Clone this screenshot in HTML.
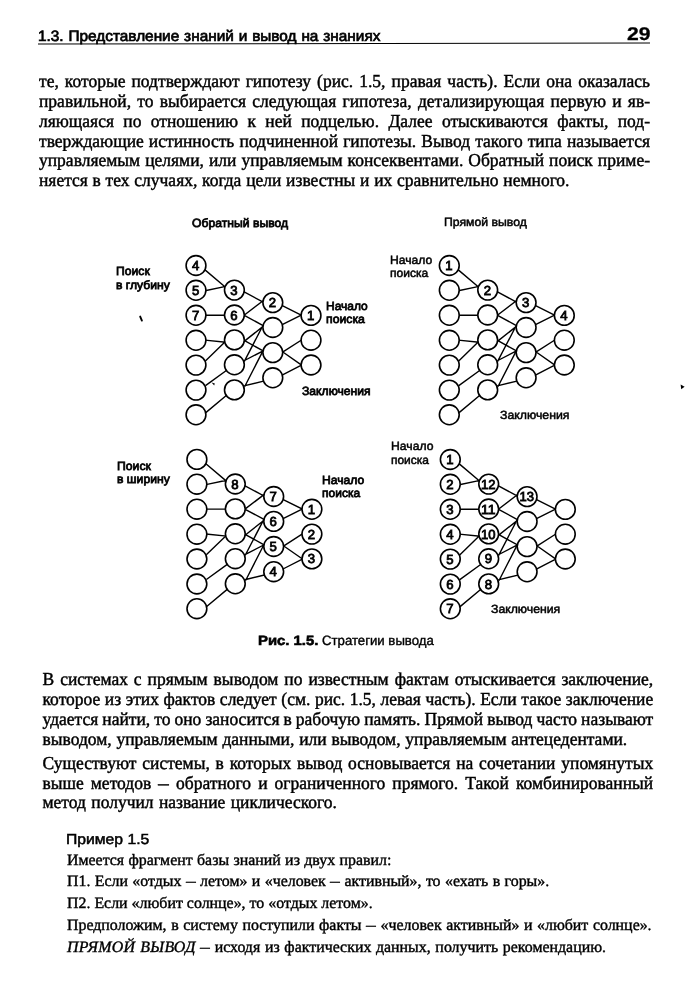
<!DOCTYPE html>
<html lang="ru"><head><meta charset="utf-8"><title>29</title>
<style>.d{display:inline-block;width:0.62em;transform:scaleX(0.62);transform-origin:0 50%;}i{letter-spacing:0.3px;}
html,body{margin:0;padding:0;background:#fff;}
body{width:693px;height:1000px;position:relative;overflow:hidden;color:#111;will-change:transform;}
.t{position:absolute;white-space:pre;line-height:20px;height:20px;transform-origin:0 50%;text-rendering:geometricPrecision;}
.s{font-family:"Liberation Serif", serif;-webkit-text-stroke:0.45px #000;color:#000;filter:blur(0.3px);}
.a{font-family:"Liberation Sans", sans-serif;-webkit-text-stroke:0.6px #000;color:#000;}
.f{-webkit-text-stroke-width:0.75px;filter:blur(0.35px);}
.rule{position:absolute;left:38px;top:42.5px;width:612px;height:1.25px;background:#000;transform:rotate(-0.1deg);}
svg{position:absolute;left:0;top:0;}
svg text{text-rendering:geometricPrecision;font-family:"Liberation Sans", sans-serif;font-size:13.2px;text-anchor:middle;fill:#000;stroke:#000;stroke-width:0.8px;}
</style></head>
<body>
<div class="rule"></div>
<div class="t a" style="left:37.6px;top:26.7px;font-size:15.0px;word-spacing:0.6px;transform:scaleX(1.0238);-webkit-text-stroke-width:0.7px;">1.3. Представление знаний и вывод на знаниях</div>
<div class="t a" style="left:626.5px;top:24.1px;font-size:18.4px;font-weight:bold;transform:scaleX(1.1481);-webkit-text-stroke-width:0.3px;">29</div>
<div class="t s" style="left:39.0px;top:71.0px;font-size:17.5px;word-spacing:1.692px;transform:scaleY(1.04);transform-origin:0 16.00px;">те, которые подтверждают гипотезу (рис. 1.5, правая часть). Если она оказалась</div>
<div class="t s" style="left:39.0px;top:90.9px;font-size:17.5px;word-spacing:1.873px;transform:scaleY(1.04);transform-origin:0 16.00px;">правильной, то выбирается следующая гипотеза, детализирующая первую и яв-</div>
<div class="t s" style="left:39.0px;top:110.9px;font-size:17.5px;word-spacing:4.988px;transform:scaleY(1.04);transform-origin:0 16.00px;">ляющаяся по отношению к ней подцелью. Далее отыскиваются факты, под-</div>
<div class="t s" style="left:39.0px;top:130.7px;font-size:17.5px;word-spacing:0.712px;transform:scaleY(1.04);transform-origin:0 16.00px;">тверждающие истинность подчиненной гипотезы. Вывод такого типа называется</div>
<div class="t s" style="left:39.0px;top:150.4px;font-size:17.5px;word-spacing:0.654px;transform:scaleY(1.04);transform-origin:0 16.00px;">управляемым целями, или управляемым консеквентами. Обратный поиск приме-</div>
<div class="t s" style="left:39.0px;top:170.4px;font-size:17.5px;word-spacing:0.375px;transform:scaleY(1.04);transform-origin:0 16.00px;">няется в тех случаях, когда цели известны и их сравнительно немного.</div>
<div class="t s" style="left:42.5px;top:669.2px;font-size:17.5px;word-spacing:1.578px;transform:scaleY(1.04);transform-origin:0 16.00px;">В системах с прямым выводом по известным фактам отыскивается заключение,</div>
<div class="t s" style="left:42.5px;top:688.8px;font-size:17.5px;word-spacing:0.182px;transform:scaleY(1.04);transform-origin:0 16.00px;">которое из этих фактов следует (см. рис. 1.5, левая часть). Если такое заключение</div>
<div class="t s" style="left:42.5px;top:709.0px;font-size:17.5px;word-spacing:-0.324px;transform:scaleY(1.04);transform-origin:0 16.00px;">удается найти, то оно заносится в рабочую память. Прямой вывод часто называют</div>
<div class="t s" style="left:42.5px;top:728.5px;font-size:17.5px;word-spacing:0.414px;transform:scaleY(1.04);transform-origin:0 16.00px;">выводом, управляемым данными, или выводом, управляемым антецедентами.</div>
<div class="t s" style="left:42.5px;top:752.8px;font-size:17.5px;word-spacing:1.412px;transform:scaleY(1.04);transform-origin:0 16.00px;">Существуют системы, в которых вывод основывается на сочетании упомянутых</div>
<div class="t s" style="left:42.5px;top:773.3px;font-size:17.5px;word-spacing:2.656px;transform:scaleY(1.04);transform-origin:0 16.00px;">выше методов <span class="d">—</span> обратного и ограниченного прямого. Такой комбинированный</div>
<div class="t s" style="left:42.5px;top:792.4px;font-size:17.5px;word-spacing:1.005px;transform:scaleY(1.04);transform-origin:0 16.00px;">метод получил название циклического.</div>
<div class="t a" style="left:66.3px;top:829.6px;font-size:14.5px;transform:scaleX(1.0836);-webkit-text-stroke-width:0.5px;">Пример 1.5</div>
<div class="t s" style="left:67.0px;top:850.5px;font-size:15.9px;word-spacing:0.374px;-webkit-text-stroke-width:0.4px;">Имеется фрагмент базы знаний из двух правил:</div>
<div class="t s" style="left:67.0px;top:872.2px;font-size:15.9px;word-spacing:0.410px;-webkit-text-stroke-width:0.4px;">П1. Если «отдых <span class="d">—</span> летом» и «человек <span class="d">—</span> активный», то «ехать в горы».</div>
<div class="t s" style="left:67.0px;top:894.2px;font-size:15.9px;word-spacing:0.026px;-webkit-text-stroke-width:0.4px;">П2. Если «любит солнце», то «отдых летом».</div>
<div class="t s" style="left:67.0px;top:915.9px;font-size:15.9px;word-spacing:0.615px;-webkit-text-stroke-width:0.4px;">Предположим, в систему поступили факты <span class="d">—</span> «человек активный» и «любит солнце».</div>
<div class="t s" style="left:67.0px;top:938.3px;font-size:15.9px;word-spacing:0.680px;-webkit-text-stroke-width:0.4px;"><i>ПРЯМОЙ ВЫВОД</i> <span class="d">—</span> исходя из фактических данных, получить рекомендацию.</div>
<div class="t a f" style="left:191.5px;top:212.6px;font-size:11.9px;transform:scaleX(1.0237);">Обратный вывод</div>
<div class="t a f" style="left:444.2px;top:212.2px;font-size:11.9px;transform:scaleX(1.0292);-webkit-text-stroke-width:0.5px;">Прямой вывод</div>
<div class="t a f" style="left:115.9px;top:261.1px;font-size:11.9px;transform:scaleX(1.0227);">Поиск</div>
<div class="t a f" style="left:115.9px;top:275.3px;font-size:11.9px;transform:scaleX(1.0230);">в глубину</div>
<div class="t a f" style="left:326.2px;top:296.2px;font-size:11.9px;transform:scaleX(1.0087);">Начало</div>
<div class="t a f" style="left:326.2px;top:309.2px;font-size:11.9px;transform:scaleX(1.0313);">поиска</div>
<div class="t a f" style="left:301.6px;top:380.5px;font-size:11.9px;transform:scaleX(1.0225);">Заключения</div>
<div class="t a f" style="left:389.7px;top:249.9px;font-size:11.9px;transform:scaleX(1.0208);-webkit-text-stroke-width:0.5px;">Начало</div>
<div class="t a f" style="left:389.7px;top:263.0px;font-size:11.9px;transform:scaleX(1.0154);-webkit-text-stroke-width:0.5px;">поиска</div>
<div class="t a f" style="left:499.8px;top:405.2px;font-size:11.9px;transform:scaleX(1.0344);-webkit-text-stroke-width:0.5px;">Заключения</div>
<div class="t a f" style="left:116.9px;top:455.6px;font-size:11.9px;transform:scaleX(1.0287);">Поиск</div>
<div class="t a f" style="left:116.9px;top:469.2px;font-size:11.9px;transform:scaleX(1.0237);">в ширину</div>
<div class="t a f" style="left:322.4px;top:469.8px;font-size:11.9px;transform:scaleX(1.0208);">Начало</div>
<div class="t a f" style="left:322.4px;top:483.4px;font-size:11.9px;transform:scaleX(1.0101);">поиска</div>
<div class="t a f" style="left:390.7px;top:435.6px;font-size:11.9px;transform:scaleX(1.0256);-webkit-text-stroke-width:0.5px;">Начало</div>
<div class="t a f" style="left:390.7px;top:449.5px;font-size:11.9px;transform:scaleX(1.0048);-webkit-text-stroke-width:0.5px;">поиска</div>
<div class="t a f" style="left:491.2px;top:599.0px;font-size:11.9px;transform:scaleX(1.0300);-webkit-text-stroke-width:0.5px;">Заключения</div>
<div class="t a f" style="left:258.4px;top:631.4px;font-size:13.5px;font-weight:bold;transform:scaleX(1.0995);-webkit-text-stroke-width:0.6px;">Рис. 1.5.</div>
<div class="t a f" style="left:321.9px;top:631.4px;font-size:13.5px;transform:scaleX(0.9768);-webkit-text-stroke-width:0.4px;">Стратегии вывода</div>
<svg width="693" height="1000" viewBox="0 0 693 1000">
<g transform="translate(0.0,0.0)">
<path d="M204.4 269.4L225.5 287.2 M205.0 290.7L225.8 286.4 M205.0 315.2L225.8 315.2 M205.0 340.1L225.8 342.2 M205.4 360.9L225.4 341.6 M205.5 385.6L226.7 370.2 M205.8 412.6L226.6 395.2 M243.7 291.7L263.2 302.1 M244.4 315.0L263.1 300.7 M244.3 315.4L263.6 325.8 M243.8 341.6L263.1 326.4 M243.7 340.2L263.6 351.2 M244.2 361.6L262.7 326.0 M243.6 361.0L263.7 350.6 M244.6 386.8L263.1 350.6 M243.9 385.9L264.6 380.9 M281.3 305.2L302.2 315.6 M281.7 324.9L302.2 314.7 M281.8 352.7L302.3 339.5 M281.8 351.3L302.3 365.6 M282.1 375.1L302.4 364.7" stroke="#000" stroke-width="1.4" fill="none" stroke-linecap="butt"/>
<circle cx="196.0" cy="265.5" r="9.9" fill="#fff" stroke="#000" stroke-width="1.6"/>
<text x="195.6" y="270.1">4</text>
<circle cx="196.0" cy="290.3" r="9.9" fill="#fff" stroke="#000" stroke-width="1.6"/>
<text x="195.6" y="294.9">5</text>
<circle cx="196.0" cy="315.3" r="9.9" fill="#fff" stroke="#000" stroke-width="1.6"/>
<text x="195.6" y="319.9">7</text>
<circle cx="196.0" cy="340.3" r="9.9" fill="#fff" stroke="#000" stroke-width="1.6"/>
<circle cx="196.0" cy="365.1" r="9.9" fill="#fff" stroke="#000" stroke-width="1.6"/>
<circle cx="196.0" cy="390.1" r="9.9" fill="#fff" stroke="#000" stroke-width="1.6"/>
<circle cx="196.0" cy="414.8" r="9.9" fill="#fff" stroke="#000" stroke-width="1.6"/>
<circle cx="234.4" cy="290.1" r="9.9" fill="#fff" stroke="#000" stroke-width="1.6"/>
<text x="234.0" y="294.7">3</text>
<circle cx="234.4" cy="315.0" r="9.9" fill="#fff" stroke="#000" stroke-width="1.6"/>
<text x="234.0" y="319.6">6</text>
<circle cx="234.4" cy="339.9" r="9.9" fill="#fff" stroke="#000" stroke-width="1.6"/>
<circle cx="234.4" cy="364.8" r="9.9" fill="#fff" stroke="#000" stroke-width="1.6"/>
<circle cx="234.4" cy="389.9" r="9.9" fill="#fff" stroke="#000" stroke-width="1.6"/>
<circle cx="272.8" cy="302.6" r="9.9" fill="#fff" stroke="#000" stroke-width="1.6"/>
<text x="272.4" y="307.2">2</text>
<circle cx="272.8" cy="327.5" r="9.9" fill="#fff" stroke="#000" stroke-width="1.6"/>
<circle cx="272.8" cy="352.6" r="9.9" fill="#fff" stroke="#000" stroke-width="1.6"/>
<circle cx="272.8" cy="377.8" r="9.9" fill="#fff" stroke="#000" stroke-width="1.6"/>
<circle cx="311.0" cy="315.4" r="9.9" fill="#fff" stroke="#000" stroke-width="1.6"/>
<text x="310.6" y="320.0">1</text>
<circle cx="311.0" cy="340.2" r="9.9" fill="#fff" stroke="#000" stroke-width="1.6"/>
<circle cx="311.0" cy="365.0" r="9.9" fill="#fff" stroke="#000" stroke-width="1.6"/>
</g>
<g transform="translate(253.3,0.0)">
<path d="M204.4 269.4L225.5 287.2 M205.0 290.7L225.8 286.4 M205.0 315.2L225.8 315.2 M205.0 340.1L225.8 342.2 M205.4 360.9L225.4 341.6 M205.5 385.6L226.7 370.2 M205.8 412.6L226.6 395.2 M243.7 291.7L263.2 302.1 M244.4 315.0L263.1 300.7 M244.3 315.4L263.6 325.8 M243.8 341.6L263.1 326.4 M243.7 340.2L263.6 351.2 M244.2 361.6L262.7 326.0 M243.6 361.0L263.7 350.6 M244.6 386.8L263.1 350.6 M243.9 385.9L264.6 380.9 M281.3 305.2L302.2 315.6 M281.7 324.9L302.2 314.7 M281.8 352.7L302.3 339.5 M281.8 351.3L302.3 365.6 M282.1 375.1L302.4 364.7" stroke="#000" stroke-width="1.4" fill="none" stroke-linecap="butt"/>
<circle cx="196.0" cy="265.5" r="9.9" fill="#fff" stroke="#000" stroke-width="1.6"/>
<text x="195.6" y="270.1">1</text>
<circle cx="196.0" cy="290.3" r="9.9" fill="#fff" stroke="#000" stroke-width="1.6"/>
<circle cx="196.0" cy="315.3" r="9.9" fill="#fff" stroke="#000" stroke-width="1.6"/>
<circle cx="196.0" cy="340.3" r="9.9" fill="#fff" stroke="#000" stroke-width="1.6"/>
<circle cx="196.0" cy="365.1" r="9.9" fill="#fff" stroke="#000" stroke-width="1.6"/>
<circle cx="196.0" cy="390.1" r="9.9" fill="#fff" stroke="#000" stroke-width="1.6"/>
<circle cx="196.0" cy="414.8" r="9.9" fill="#fff" stroke="#000" stroke-width="1.6"/>
<circle cx="234.4" cy="290.1" r="9.9" fill="#fff" stroke="#000" stroke-width="1.6"/>
<text x="234.0" y="294.7">2</text>
<circle cx="234.4" cy="315.0" r="9.9" fill="#fff" stroke="#000" stroke-width="1.6"/>
<circle cx="234.4" cy="339.9" r="9.9" fill="#fff" stroke="#000" stroke-width="1.6"/>
<circle cx="234.4" cy="364.8" r="9.9" fill="#fff" stroke="#000" stroke-width="1.6"/>
<circle cx="234.4" cy="389.9" r="9.9" fill="#fff" stroke="#000" stroke-width="1.6"/>
<circle cx="272.8" cy="302.6" r="9.9" fill="#fff" stroke="#000" stroke-width="1.6"/>
<text x="272.4" y="307.2">3</text>
<circle cx="272.8" cy="327.5" r="9.9" fill="#fff" stroke="#000" stroke-width="1.6"/>
<circle cx="272.8" cy="352.6" r="9.9" fill="#fff" stroke="#000" stroke-width="1.6"/>
<circle cx="272.8" cy="377.8" r="9.9" fill="#fff" stroke="#000" stroke-width="1.6"/>
<circle cx="311.0" cy="315.4" r="9.9" fill="#fff" stroke="#000" stroke-width="1.6"/>
<text x="310.6" y="320.0">4</text>
<circle cx="311.0" cy="340.2" r="9.9" fill="#fff" stroke="#000" stroke-width="1.6"/>
<circle cx="311.0" cy="365.0" r="9.9" fill="#fff" stroke="#000" stroke-width="1.6"/>
</g>
<g transform="translate(0.9,193.9)">
<path d="M204.4 269.4L225.5 287.2 M205.0 290.7L225.8 286.4 M205.0 315.2L225.8 315.2 M205.0 340.1L225.8 342.2 M205.4 360.9L225.4 341.6 M205.5 385.6L226.7 370.2 M205.8 412.6L226.6 395.2 M243.7 291.7L263.2 302.1 M244.4 315.0L263.1 300.7 M244.3 315.4L263.6 325.8 M243.8 341.6L263.1 326.4 M243.7 340.2L263.6 351.2 M244.2 361.6L262.7 326.0 M243.6 361.0L263.7 350.6 M244.6 386.8L263.1 350.6 M243.9 385.9L264.6 380.9 M281.3 305.2L302.2 315.6 M281.7 324.9L302.2 314.7 M281.8 352.7L302.3 339.5 M281.8 351.3L302.3 365.6 M282.1 375.1L302.4 364.7" stroke="#000" stroke-width="1.4" fill="none" stroke-linecap="butt"/>
<circle cx="196.0" cy="265.5" r="9.9" fill="#fff" stroke="#000" stroke-width="1.6"/>
<circle cx="196.0" cy="290.3" r="9.9" fill="#fff" stroke="#000" stroke-width="1.6"/>
<circle cx="196.0" cy="315.3" r="9.9" fill="#fff" stroke="#000" stroke-width="1.6"/>
<circle cx="196.0" cy="340.3" r="9.9" fill="#fff" stroke="#000" stroke-width="1.6"/>
<circle cx="196.0" cy="365.1" r="9.9" fill="#fff" stroke="#000" stroke-width="1.6"/>
<circle cx="196.0" cy="390.1" r="9.9" fill="#fff" stroke="#000" stroke-width="1.6"/>
<circle cx="196.0" cy="414.8" r="9.9" fill="#fff" stroke="#000" stroke-width="1.6"/>
<circle cx="234.4" cy="290.1" r="9.9" fill="#fff" stroke="#000" stroke-width="1.6"/>
<text x="234.0" y="294.7">8</text>
<circle cx="234.4" cy="315.0" r="9.9" fill="#fff" stroke="#000" stroke-width="1.6"/>
<circle cx="234.4" cy="339.9" r="9.9" fill="#fff" stroke="#000" stroke-width="1.6"/>
<circle cx="234.4" cy="364.8" r="9.9" fill="#fff" stroke="#000" stroke-width="1.6"/>
<circle cx="234.4" cy="389.9" r="9.9" fill="#fff" stroke="#000" stroke-width="1.6"/>
<circle cx="272.8" cy="302.6" r="9.9" fill="#fff" stroke="#000" stroke-width="1.6"/>
<text x="272.4" y="307.2">7</text>
<circle cx="272.8" cy="327.5" r="9.9" fill="#fff" stroke="#000" stroke-width="1.6"/>
<text x="272.4" y="332.1">6</text>
<circle cx="272.8" cy="352.6" r="9.9" fill="#fff" stroke="#000" stroke-width="1.6"/>
<text x="272.4" y="357.2">5</text>
<circle cx="272.8" cy="377.8" r="9.9" fill="#fff" stroke="#000" stroke-width="1.6"/>
<text x="272.4" y="382.4">4</text>
<circle cx="311.0" cy="315.4" r="9.9" fill="#fff" stroke="#000" stroke-width="1.6"/>
<text x="310.6" y="320.0">1</text>
<circle cx="311.0" cy="340.2" r="9.9" fill="#fff" stroke="#000" stroke-width="1.6"/>
<text x="310.6" y="344.8">2</text>
<circle cx="311.0" cy="365.0" r="9.9" fill="#fff" stroke="#000" stroke-width="1.6"/>
<text x="310.6" y="369.6">3</text>
</g>
<g transform="translate(254.3,194.0)">
<path d="M204.4 269.4L225.5 287.2 M205.0 290.7L225.8 286.4 M205.0 315.2L225.8 315.2 M205.0 340.1L225.8 342.2 M205.4 360.9L225.4 341.6 M205.5 385.6L226.7 370.2 M205.8 412.6L226.6 395.2 M243.7 291.7L263.2 302.1 M244.4 315.0L263.1 300.7 M244.3 315.4L263.6 325.8 M243.8 341.6L263.1 326.4 M243.7 340.2L263.6 351.2 M244.2 361.6L262.7 326.0 M243.6 361.0L263.7 350.6 M244.6 386.8L263.1 350.6 M243.9 385.9L264.6 380.9 M281.3 305.2L302.2 315.6 M281.7 324.9L302.2 314.7 M281.8 352.7L302.3 339.5 M281.8 351.3L302.3 365.6 M282.1 375.1L302.4 364.7" stroke="#000" stroke-width="1.4" fill="none" stroke-linecap="butt"/>
<circle cx="196.0" cy="265.5" r="9.9" fill="#fff" stroke="#000" stroke-width="1.6"/>
<text x="195.6" y="270.1">1</text>
<circle cx="196.0" cy="290.3" r="9.9" fill="#fff" stroke="#000" stroke-width="1.6"/>
<text x="195.6" y="294.9">2</text>
<circle cx="196.0" cy="315.3" r="9.9" fill="#fff" stroke="#000" stroke-width="1.6"/>
<text x="195.6" y="319.9">3</text>
<circle cx="196.0" cy="340.3" r="9.9" fill="#fff" stroke="#000" stroke-width="1.6"/>
<text x="195.6" y="344.9">4</text>
<circle cx="196.0" cy="365.1" r="9.9" fill="#fff" stroke="#000" stroke-width="1.6"/>
<text x="195.6" y="369.7">5</text>
<circle cx="196.0" cy="390.1" r="9.9" fill="#fff" stroke="#000" stroke-width="1.6"/>
<text x="195.6" y="394.7">6</text>
<circle cx="196.0" cy="414.8" r="9.9" fill="#fff" stroke="#000" stroke-width="1.6"/>
<text x="195.6" y="419.4">7</text>
<circle cx="234.4" cy="290.1" r="9.9" fill="#fff" stroke="#000" stroke-width="1.6"/>
<text x="234.0" y="294.7" textLength="14.5" lengthAdjust="spacingAndGlyphs">12</text>
<circle cx="234.4" cy="315.0" r="9.9" fill="#fff" stroke="#000" stroke-width="1.6"/>
<text x="234.0" y="319.6" textLength="14.5" lengthAdjust="spacingAndGlyphs">11</text>
<circle cx="234.4" cy="339.9" r="9.9" fill="#fff" stroke="#000" stroke-width="1.6"/>
<text x="234.0" y="344.5" textLength="14.5" lengthAdjust="spacingAndGlyphs">10</text>
<circle cx="234.4" cy="364.8" r="9.9" fill="#fff" stroke="#000" stroke-width="1.6"/>
<text x="234.0" y="369.4">9</text>
<circle cx="234.4" cy="389.9" r="9.9" fill="#fff" stroke="#000" stroke-width="1.6"/>
<text x="234.0" y="394.5">8</text>
<circle cx="272.8" cy="302.6" r="9.9" fill="#fff" stroke="#000" stroke-width="1.6"/>
<text x="272.4" y="307.2" textLength="14.5" lengthAdjust="spacingAndGlyphs">13</text>
<circle cx="272.8" cy="327.5" r="9.9" fill="#fff" stroke="#000" stroke-width="1.6"/>
<circle cx="272.8" cy="352.6" r="9.9" fill="#fff" stroke="#000" stroke-width="1.6"/>
<circle cx="272.8" cy="377.8" r="9.9" fill="#fff" stroke="#000" stroke-width="1.6"/>
<circle cx="311.0" cy="315.4" r="9.9" fill="#fff" stroke="#000" stroke-width="1.6"/>
<circle cx="311.0" cy="340.2" r="9.9" fill="#fff" stroke="#000" stroke-width="1.6"/>
<circle cx="311.0" cy="365.0" r="9.9" fill="#fff" stroke="#000" stroke-width="1.6"/>
</g>
<path d="M140.2 316.6L141.9 320.6" stroke="#000" stroke-width="1.9" stroke-linecap="round" fill="none"/>
<path d="M680.6 384.6L684.6 386.8L681.2 389.2Z" fill="#000"/>
<path d="M211.6 382.6L214.8 383.4L214.2 385.6Z" fill="#000"/>
</svg>
</body></html>
